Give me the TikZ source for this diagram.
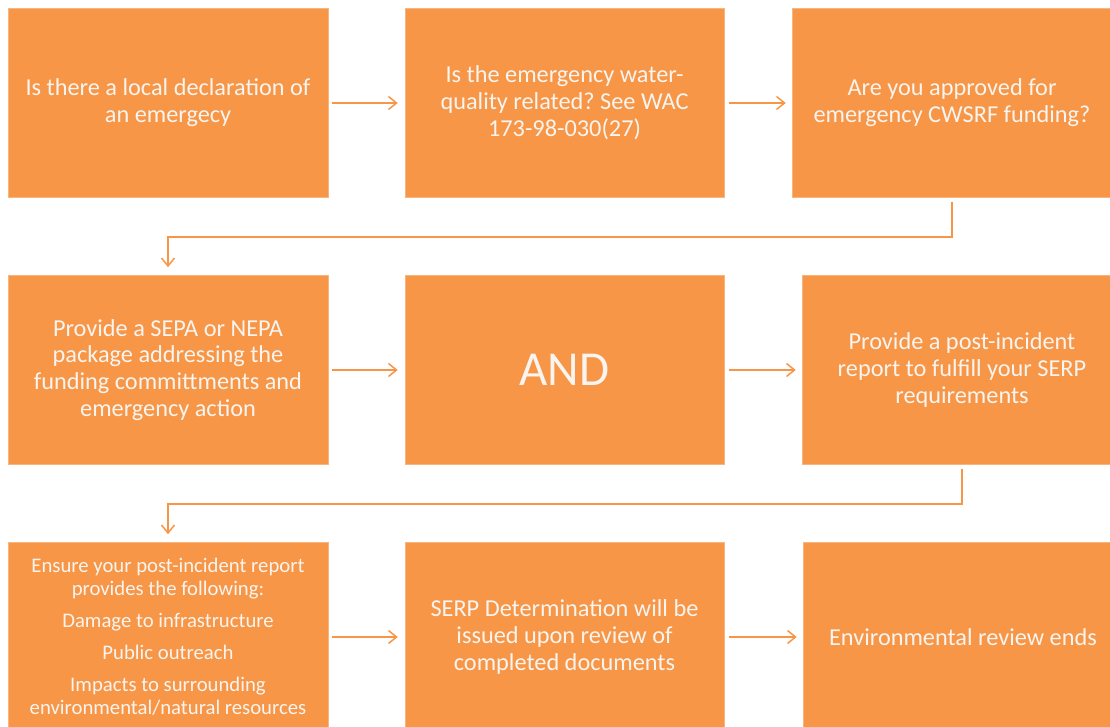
\documentclass[tikz,border=0pt]{standalone}
\usepackage{fontspec}
\setmainfont{Carlito}
\usetikzlibrary{arrows.meta}
\definecolor{boxorange}{HTML}{F79646}
\definecolor{boxtext}{HTML}{F8F4F0}
\frenchspacing
\begin{document}
\begin{tikzpicture}[x=1bp,y=-1bp,
  stepbox/.style={rectangle, fill=boxorange, draw=boxorange!70!white, line width=0.6bp,
    minimum width=320bp, minimum height=189bp, inner sep=0pt,
    text=boxtext, align=center, font=\fontsize{24.4}{27}\selectfont},
  flow/.style={draw=boxorange, line width=1.5bp, -{Straight Barb[length=8bp,width=13bp]}}]
\useasboundingbox (0,0) rectangle (1110,727);
\fill[white] (0,0) rectangle (1110,727);
\begin{scope}
\clip (0,0) rectangle (1110,727);
\node[stepbox] (b1) at (168,103) {Is there a local declaration of\\an emergecy};
\node[stepbox, minimum width=319bp] (b2) at (564.5,103) {Is the emergency water-\\quality related? See WAC\\173-98-030(27)};
\node[stepbox] (b3) at (952,103) {Are you approved for\\emergency CWSRF funding?};
\node[stepbox] (b4) at (168,370) {Provide a SEPA or NEPA\\package addressing the\\funding committments and\\emergency action};
\node[stepbox, minimum width=319bp, font=\fontsize{49}{54}\selectfont] (b5) at (564.5,370) {AND};
\node[stepbox] (b6) at (962,370) {Provide a post-incident\\report to fulfill your SERP\\requirements};
\node[stepbox, font=\fontsize{20.8}{23}\selectfont] (b7) at (168,637) {Ensure your post-incident report\\provides the following:\\[9bp]Damage to infrastructure\\[9bp]Public outreach\\[9bp]Impacts to surrounding\\environmental/natural resources};
\node[stepbox, minimum width=319bp] (b8) at (564.5,637) {SERP Determination will be\\issued upon review of\\completed documents};
\node[stepbox] (b9) at (963,637) {Environmental review ends};
\end{scope}
\draw[flow, shorten <=4bp, shorten >=7bp] (b1) -- (b2);
\draw[flow, shorten <=5bp, shorten >=6bp] (b2) -- (b3);
\draw[flow, shorten <=4bp, shorten >=7bp] (b4) -- (b5);
\draw[flow, shorten <=5bp, shorten >=6bp] (b5) -- (b6);
\draw[flow, shorten <=4bp, shorten >=7bp] (b7) -- (b8);
\draw[flow, shorten <=5bp, shorten >=6bp] (b8) -- (b9);
\draw[flow, shorten <=4bp, shorten >=8bp] (b3.south) -- ++(0,39) -| (b4.north);
\draw[flow, shorten <=4bp, shorten >=8bp] (b6.south) -- ++(0,39) -| (b7.north);
\end{tikzpicture}
\end{document}
